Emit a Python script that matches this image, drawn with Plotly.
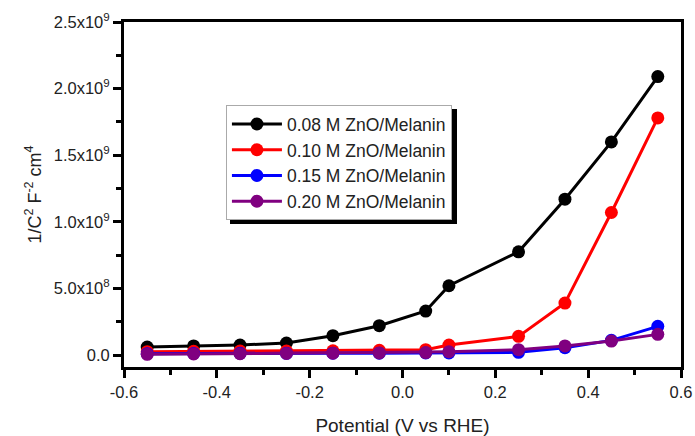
import plotly.graph_objects as go

potential = [-0.55, -0.45, -0.35, -0.25, -0.15, -0.05, 0.05, 0.10, 0.25, 0.35, 0.45, 0.55]
s008 = [0.06e9, 0.068e9, 0.075e9, 0.09e9, 0.145e9, 0.22e9, 0.33e9, 0.52e9, 0.775e9, 1.17e9, 1.6e9, 2.09e9]
s010 = [0.025e9, 0.028e9, 0.03e9, 0.03e9, 0.032e9, 0.035e9, 0.04e9, 0.075e9, 0.14e9, 0.39e9, 1.07e9, 1.78e9]
s015 = [0.01e9, 0.012e9, 0.013e9, 0.013e9, 0.014e9, 0.014e9, 0.015e9, 0.015e9, 0.02e9, 0.055e9, 0.11e9, 0.215e9]
s020 = [0.005e9, 0.008e9, 0.01e9, 0.012e9, 0.014e9, 0.016e9, 0.018e9, 0.025e9, 0.04e9, 0.068e9, 0.105e9, 0.155e9]
names = ["0.08 M ZnO/Melanin", "0.10 M ZnO/Melanin", "0.15 M ZnO/Melanin", "0.20 M ZnO/Melanin"]
colors = ["black", "#ff0000", "#0000ff", "#800080"]
series = [s008, s010, s015, s020]

ytickvals = [0, 0.5e9, 1.0e9, 1.5e9, 2.0e9, 2.5e9]
yticktext = ["0.0", "5.0x10<sup>8</sup>", "1.0x10<sup>9</sup>", "1.5x10<sup>9</sup>",
             "2.0x10<sup>9</sup>", "2.5x10<sup>9</sup>"]
xtickvals = [-0.6, -0.4, -0.2, 0.0, 0.2, 0.4, 0.6]
xticktext = ["-0.6", "-0.4", "-0.2", "0.0", "0.2", "0.4", "0.6"]

fig = go.Figure()
for name, c, s in zip(names, colors, series):
    fig.add_trace(go.Scatter(x=potential, y=s, name=name, mode="lines+markers",
                             line=dict(color=c, width=3),
                             marker=dict(color=c, size=13)))

font = "Liberation Sans, Arial, sans-serif"
fig.update_layout(
    width=695, height=436,
    margin=dict(l=124, r=14, t=22, b=69),
    plot_bgcolor="white", paper_bgcolor="white",
    font=dict(family=font, size=16.5, color="#222222"),
    showlegend=True,
    legend=dict(x=0.183, y=0.759, xanchor="left", yanchor="top",
                bgcolor="white", bordercolor="#aaaaaa", borderwidth=1,
                font=dict(size=17.5, color="#222222"), tracegroupgap=0,
                itemwidth=50),
    xaxis=dict(range=[-0.6, 0.6], tickvals=xtickvals, ticktext=xticktext,
               automargin=False,
               showgrid=False, zeroline=False, showline=True, linecolor="black",
               linewidth=3, mirror=True, ticks="outside", ticklen=8, tickwidth=3,
               tickcolor="black",
               minor=dict(dtick=0.1, tick0=-0.6, ticks="outside", ticklen=5, tickwidth=3, tickcolor="black"),
               title=dict(text="Potential (V vs RHE)", font=dict(size=19), standoff=22)),
    yaxis=dict(range=[-0.09e9, 2.5e9], tickvals=ytickvals, ticktext=yticktext,
               automargin=False,
               showgrid=False, zeroline=False, showline=True, linecolor="black",
               linewidth=3, mirror=True, ticks="outside", ticklen=8, tickwidth=3,
               tickcolor="black",
               minor=dict(dtick=0.25e9, tick0=0, ticks="outside", ticklen=5, tickwidth=3, tickcolor="black"),
               title=dict(text="1/C<sup>2</sup> F<sup>-2</sup> cm<sup>4</sup>", font=dict(size=18), standoff=8)),
)
# legend shadow (offset box drawn behind the legend)
fig.add_shape(type="rect", xref="paper", yref="paper",
              x0=(230 - 124) / 557, x1=(457 - 124) / 557,
              y0=(367 - 224) / 345, y1=(367 - 109) / 345,
              fillcolor="black", line=dict(width=0), layer="above")
fig.write_html("out.html")
